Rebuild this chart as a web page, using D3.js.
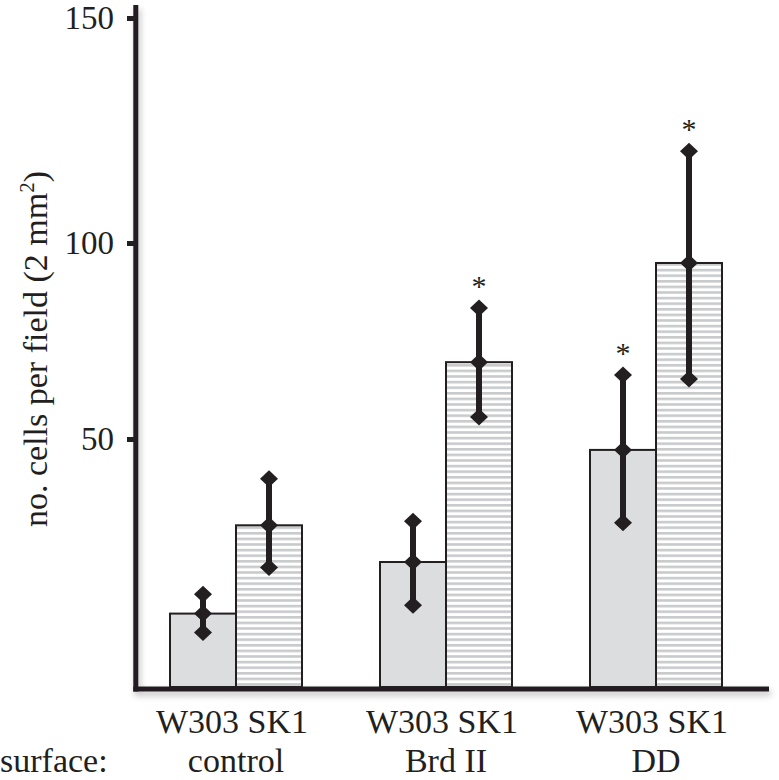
<!DOCTYPE html>
<html><head><meta charset="utf-8">
<script src="https://cdn.jsdelivr.net/npm/d3@7"></script>
<style>body{margin:0;background:#fff;} svg{display:block;} text{font-family:"Liberation Serif", Tinos, "Times New Roman", Times, serif;}</style>
</head><body>
<svg id="chart" width="779" height="780"></svg>
<script>
// ---- data ----
const groups = ["control", "Brd II", "DD"];
const strains = ["W303", "SK1"];
const w303Mean  = [14.8, 25.2, 47.8];
const w303Upper = [18.7, 33.4, 66.3];
const w303Lower = [11.0, 16.5, 33.1];
const sk1Mean   = [32.6, 69.6, 94.9];
const sk1Upper  = [42.0, 83.4, 120.4];
const sk1Lower  = [24.1, 55.6, 65.3];
const w303Star  = [false, false, true];
const sk1Star   = [false, true, true];
const yTicks = [50, 100, 150];
const yLabel = "no. cells per field (2 mm";

const ink = "#231f20";
const svg = d3.select("#chart");
const font = "Liberation Serif, Tinos, Times New Roman, Times, serif";

const defs = svg.append("defs");
const pat = defs.append("pattern").attr("id","stripes").attr("patternUnits","userSpaceOnUse")
  .attr("width", 10).attr("height", 5.6);
pat.append("rect").attr("width",10).attr("height",5.6).attr("fill","#fff");
pat.append("rect").attr("y",0).attr("width",10).attr("height",2.6).attr("fill","#c9cacc");
const f = defs.append("filter").attr("id","shadow").attr("x","-5%").attr("y","-5%").attr("width","120%").attr("height","140%");
f.append("feDropShadow").attr("dx",2).attr("dy",4).attr("stdDeviation",3).attr("flood-color","#000").attr("flood-opacity",0.25);

// scales (axis is drawn non-uniformly in the original)
const y = d3.scaleLinear().domain([0, 50, 100, 150]).range([687, 439, 243, 18]);
const x0 = d3.scaleBand().domain(groups).range([131, 761]).padding(0);
const x1 = d3.scaleBand().domain(strains).range([-66, 66]).padding(0);

const rows = [];
groups.forEach((g, i) => {
  rows.push({g, s:"W303", mean:w303Mean[i], up:w303Upper[i], lo:w303Lower[i], star:w303Star[i]});
  rows.push({g, s:"SK1", mean:sk1Mean[i], up:sk1Upper[i], lo:sk1Lower[i], star:sk1Star[i]});
});
const cx = d => x0(d.g) + x0.bandwidth()/2 + x1(d.s) + x1.bandwidth()/2;
const bx = d => x0(d.g) + x0.bandwidth()/2 + x1(d.s);

// bars
svg.append("g").selectAll("rect").data(rows).join("rect")
  .attr("x", bx).attr("width", x1.bandwidth())
  .attr("y", d => y(d.mean)).attr("height", d => y(0) - y(d.mean))
  .attr("fill", d => d.s === "W303" ? "#dcdddf" : "url(#stripes)")
  .attr("stroke", ink).attr("stroke-width", 2);

// axes
const ax = svg.append("g").attr("filter","url(#shadow)");
ax.append("line").attr("x1",135.8).attr("x2",135.8).attr("y1",5).attr("y2",691.5)
  .attr("stroke",ink).attr("stroke-width",5);
ax.append("line").attr("x1",133.3).attr("x2",769).attr("y1",y(0)+2).attr("y2",y(0)+2)
  .attr("stroke",ink).attr("stroke-width",5);

const yAxis = d3.axisLeft(y).tickValues(yTicks).tickSize(8).tickPadding(13).tickSizeOuter(0);
const ya = svg.append("g").attr("transform","translate(135,0)").call(yAxis);
ya.attr("font-family", null);
ya.select(".domain").remove();
ya.selectAll(".tick line").attr("stroke",ink).attr("stroke-width",5);
ya.selectAll(".tick text").style("font-family",font).attr("font-size",33).attr("fill",ink);

// error bars
const eb = svg.append("g");
eb.selectAll("line").data(rows).join("line")
  .attr("x1",cx).attr("x2",cx).attr("y1",d=>y(d.up)).attr("y2",d=>y(d.lo))
  .attr("stroke",ink).attr("stroke-width",6);
const diamond = (px, py) => `M${px},${py-8.5} L${px+9},${py} L${px},${py+8.5} L${px-9},${py} Z`;
rows.forEach(d => {
  [d.up, d.mean, d.lo].forEach(v => {
    eb.append("path").attr("d", diamond(cx(d), y(v))).attr("fill", ink);
  });
});

// asterisks
svg.append("g").selectAll("text").data(rows.filter(d=>d.star)).join("text")
  .attr("x",cx).attr("y",d=>y(d.up)-12)
  .attr("text-anchor","middle").style("font-family",font).attr("font-size",30).attr("fill",ink)
  .text("*");

// x labels
const xl = svg.append("g").attr("font-size",34).attr("fill",ink).attr("text-anchor","middle");
groups.forEach(g => {
  const c = x0(g) + x0.bandwidth()/2;
  xl.append("text").attr("x", c - 4).attr("y", 733).style("font-family",font).text(strains.join(" "));
  xl.append("text").attr("x", c).attr("y", 772).style("font-family",font).text(g);
});
xl.append("text").attr("x",0).attr("y",772).attr("text-anchor","start").style("font-family",font).text("surface:");

// y label
const yl = svg.append("text").attr("transform","translate(47,349) rotate(-90)")
  .attr("text-anchor","middle").style("font-family",font).attr("font-size",34).attr("fill",ink);
yl.append("tspan").text(yLabel);
yl.append("tspan").attr("font-size",21).attr("dy",-13).text("2");
yl.append("tspan").attr("dy",13).text(")");
</script>
</body></html>
